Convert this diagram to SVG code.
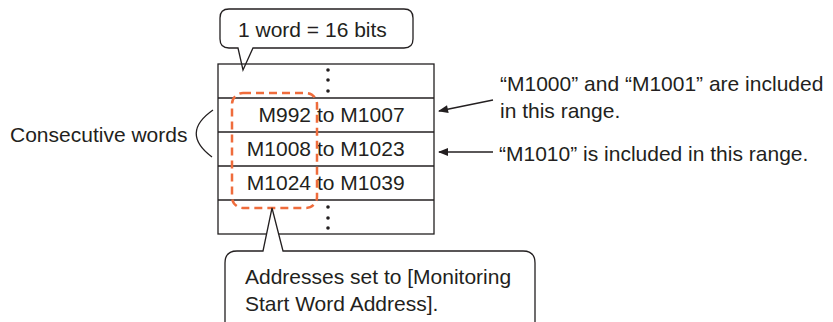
<svg xmlns="http://www.w3.org/2000/svg" width="833" height="322" viewBox="0 0 833 322">
<style>
text{font-family:"Liberation Sans",Arial,sans-serif;font-size:21px;fill:#231f20}
.ln{stroke:#231f20;stroke-width:1.3;fill:none}
.bub{stroke:#231f20;stroke-width:1.3;fill:#fff}
.dot{fill:#231f20}
</style>
<defs>
<marker id="ah" viewBox="0 0 10 8" refX="9" refY="4" markerWidth="11" markerHeight="8" markerUnits="userSpaceOnUse" orient="auto">
<path d="M0,0 L10,4 L0,8 Z" fill="#231f20"/>
</marker>
</defs>
<rect width="833" height="322" fill="#fff"/>
<g id="bubble-top">
<path class="bub" d="M229,9 H404 Q413,9 413,18 V39 Q413,48 404,48 H253 L243,70 L238,48 H229 Q220,48 220,39 V18 Q220,9 229,9 Z"/>
<text x="238" y="37">1 word = 16 bits</text>
</g>
<g id="table">
<rect class="ln" x="218" y="64" width="216" height="170"/>
<line class="ln" x1="218" y1="98" x2="434" y2="98"/>
<line class="ln" x1="218" y1="132" x2="434" y2="132"/>
<line class="ln" x1="218" y1="166" x2="434" y2="166"/>
<line class="ln" x1="218" y1="200" x2="434" y2="200"/>
<circle class="dot" cx="328" cy="70" r="1.8"/>
<circle class="dot" cx="328" cy="80" r="1.8"/>
<circle class="dot" cx="328" cy="91" r="1.8"/>
<circle class="dot" cx="328" cy="207" r="1.8"/>
<circle class="dot" cx="328" cy="218" r="1.8"/>
<circle class="dot" cx="328" cy="228" r="1.8"/>
<text x="311" y="122" text-anchor="end">M992</text>
<text x="317" y="122">to M1007</text>
<text x="311" y="156" text-anchor="end">M1008</text>
<text x="317" y="156">to M1023</text>
<text x="311" y="190" text-anchor="end">M1024</text>
<text x="317" y="190">to M1039</text>
</g>
<g id="range">
<rect x="232" y="93" width="85" height="115" rx="11" fill="none" stroke="#ef6c3c" stroke-width="2.5" stroke-dasharray="8,5"/>
</g>
<g id="bubble-bottom">
<path class="bub" d="M237,251 H263 L272,208 L283,251 H523 Q535,251 535,263 V323 Q535,335 523,335 H237 Q225,335 225,323 V263 Q225,251 237,251 Z"/>
<text x="245" y="284">Addresses set to [Monitoring</text>
<text x="245" y="311">Start Word Address].</text>
</g>
<g id="consecutive">
<text x="10" y="142">Consecutive words</text>
</g>
<g id="note1">
<text x="500" y="91">“M1000” and “M1001” are included</text>
<text x="500" y="118">in this range.</text>
</g>
<g id="note2">
<text x="499" y="161">“M1010” is included in this range.</text>
</g>
<g id="connectors">
<path class="ln" d="M213,110 Q180,133 212,157" stroke-width="1.6"/>
<line class="ln" x1="493" y1="100" x2="439" y2="111" marker-end="url(#ah)"/>
<line class="ln" x1="493" y1="152" x2="439" y2="152" marker-end="url(#ah)"/>
</g>
</svg>
